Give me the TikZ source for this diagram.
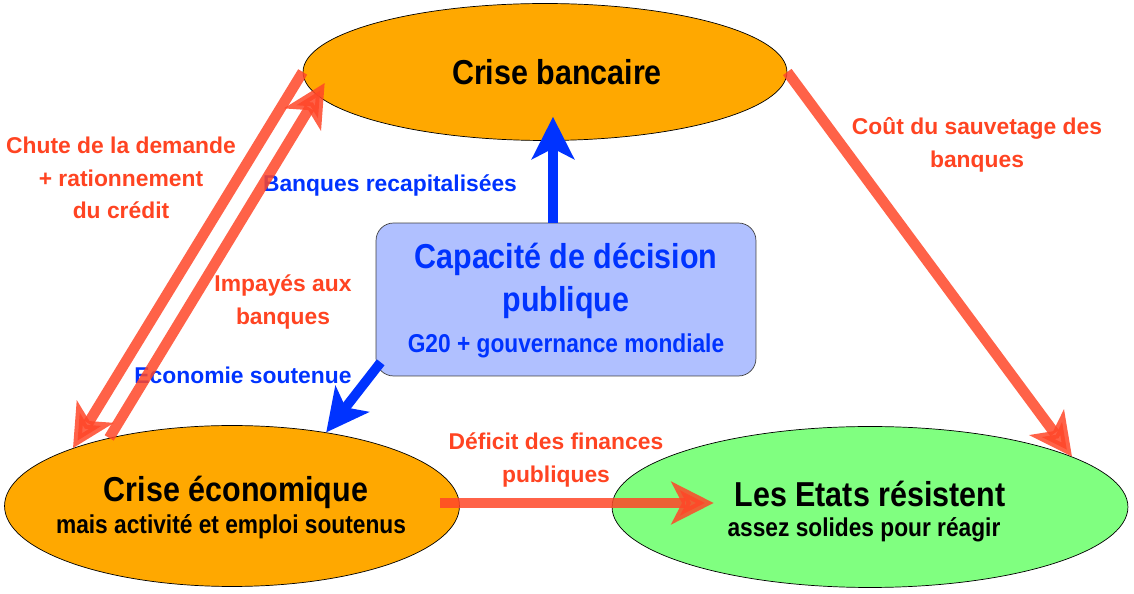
\documentclass[tikz,border=0pt]{standalone}
\usepackage{fontspec}
\setmainfont{Liberation Sans}
\newfontfamily\narrowfont{Liberation Sans}[FakeStretch=0.88]
\usetikzlibrary{positioning,arrows.meta,shapes.geometric}

\definecolor{crisefill}{HTML}{FFA800}
\definecolor{etatfill}{HTML}{80FF80}
\definecolor{boxfill}{HTML}{B0C0FF}
\definecolor{flux}{HTML}{FF4628}
\definecolor{fluxtext}{HTML}{FF4422}
\definecolor{actblue}{HTML}{0033FF}

\begin{document}
\begin{tikzpicture}[
  x=0.02cm, y=-0.02cm,
  big/.style={font={\narrowfont\fontsize{19.7}{23}\selectfont\bfseries},anchor=base},
  small/.style={font={\narrowfont\fontsize{14.7}{18.4}\selectfont\bfseries},anchor=base},
  lab/.style={font={\fontsize{13}{18.4}\selectfont\bfseries},align=center,text=fluxtext},
  blab/.style={font={\fontsize{13}{18.4}\selectfont\bfseries},text=actblue},
  crise/.style={ellipse,draw=black,thin,fill=crisefill,inner sep=0pt},
  etat/.style={ellipse,draw=black,thin,fill=etatfill,inner sep=0pt},
  decision/.style={rectangle,rounded corners=0.35cm,draw=black!75,thin,fill=boxfill,
                   minimum width=7.6cm,minimum height=3.06cm},
  redarrow/.style={-{Stealth[length=24pt,width=24pt,inset=6pt]},line width=6pt,
                   draw=flux,opacity=0.85},
  bluearrow/.style={-{Stealth[length=24pt,width=24pt,inset=6pt]},line width=5.5pt,
                    draw=actblue}
]
  \useasboundingbox (0,0) rectangle (1134,594);

  % ---------- les trois crises et la decision publique ----------
  \node[crise,minimum width=9.68cm,minimum height=2.74cm] (bank) at (545,72) {};
  \node[crise,minimum width=9.1cm,minimum height=3.22cm] (econ) at (232,506) {};
  \node[etat,minimum width=10.32cm,minimum height=3.22cm] (etats) at (870,507) {};
  \node[decision] (cap) at (566,299.5) {};

  \node[big] (banktxt) at (557,85) {Crise bancaire};
  \node[big] (econtxt) at (236,502) {Crise économique};
  \node[small] (econsub) at (231,534) {mais activité et emploi soutenus};
  \node[big] (etatstxt) at (870,507) {Les Etats résistent};
  \node[small] (etatssub) at (864,537) {assez solides pour réagir};

  \node[big,text=actblue] (captxt) at (566,269) {Capacité de décision};
  \node[big,text=actblue] (captxtb) at (566,312) {publique};
  \node[small,text=actblue] (capsub) at (566,353) {G20 + gouvernance mondiale};

  % etiquettes des flux
  \node[lab] (chute) at (121,178) {Chute de la demande\\+ rationnement\\du crédit};
  \node[lab] (impayes) at (283,302) {Impayés aux\\banques};
  \node[lab] (cout) at (977,145) {Coût du sauvetage des\\banques};
  \node[lab] (deficit) at (556,460) {Déficit des finances\\publiques};
  \node[blab] (recap) at (390,185) {Banques recapitalisées};
  \node[blab] (ecosout) at (243,375) {Economie soutenue};

  % ---------- flux ----------
  \draw[redarrow] (bank.west) -- (econ.160);
  \draw[redarrow] (econ.151) -- ([shift={(22,11)}]bank.west);
  \draw[redarrow] (bank.east) -- (etats.14);
  \draw[redarrow] ([shift={(-20,-3)}]econ.east) -- ([shift={(102,-4)}]etats.west);

  \draw[bluearrow] ([shift={(-13,0)}]cap.north) -- ([shift={(8,-24)}]bank.south);
  \draw[bluearrow] ([shift={(5,-14)}]cap.south west) -- (econ.38);
\end{tikzpicture}
\end{document}
